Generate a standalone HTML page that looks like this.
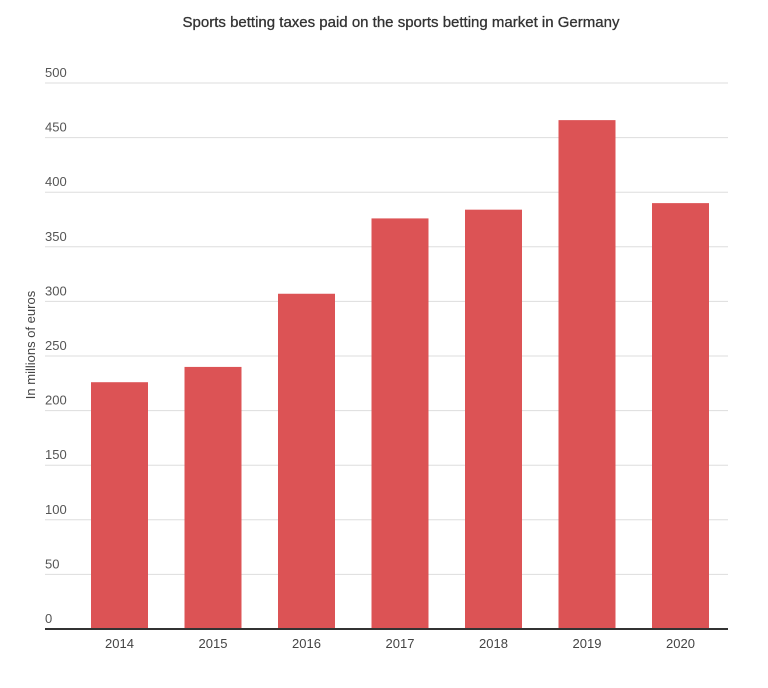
<!DOCTYPE html>
<html><head><meta charset="utf-8"><style>
body{margin:0;background:#fff;font-family:"Liberation Sans",sans-serif;}
</style></head><body>
<svg id="chart" width="768" height="683" xmlns="http://www.w3.org/2000/svg">
<text x="401" y="27" text-anchor="middle" font-size="15" fill="#333" stroke="#333" stroke-width="0.3">Sports betting taxes paid on the sports betting market in Germany</text>
<text transform="translate(35,345) rotate(-90)" text-anchor="middle" font-size="13" fill="#444">In millions of euros</text>
<g id="grid"></g><g id="bars"></g><g id="xlabels"></g>
</svg>
<script>
const categories=["2014","2015","2016","2017","2018","2019","2020"];
const values=[226,240,307,376,384,466,390];
const yTicks=[0,50,100,150,200,250,300,350,400,450,500];
const ns="http://www.w3.org/2000/svg";
const x0=45,x1=728,y0=629,yTop=83,maxV=500;
const y=v=>y0-(v/maxV)*(y0-yTop);
const band=93.5,barW=57,firstCenter=119.5;
const bx=i=>firstCenter+band*i-barW/2;
function mk(t,a,p){const e=document.createElementNS(ns,t);for(const k in a)e.setAttribute(k,a[k]);p.appendChild(e);return e;}
const grid=document.getElementById('grid');
yTicks.forEach(t=>{
  if(t>0){const l=mk('line',{x1:x0,x2:x1,y1:y(t),y2:y(t),stroke:'#ddd','stroke-width':1},grid);
  
  }
  const tx=mk('text',{x:x0,y:y(t)-6,'font-size':13,fill:'#555'},grid);tx.textContent=t;
  
  
});
const bars=document.getElementById('bars'),xl=document.getElementById('xlabels');
categories.forEach((c,i)=>{
  const r=mk('rect',{x:bx(i),y:y(values[i]),width:barW,height:y0-y(values[i]),fill:'#dc5355'},bars);
  
  
  const t=mk('text',{x:bx(i)+barW/2,y:648,'text-anchor':'middle','font-size':13,fill:'#444'},xl);t.textContent=c;
  
  
});
const ax=mk('line',{x1:x0,x2:x1,y1:y0,y2:y0,stroke:'#333','stroke-width':2},document.getElementById('chart'));


</script>
</body></html>
